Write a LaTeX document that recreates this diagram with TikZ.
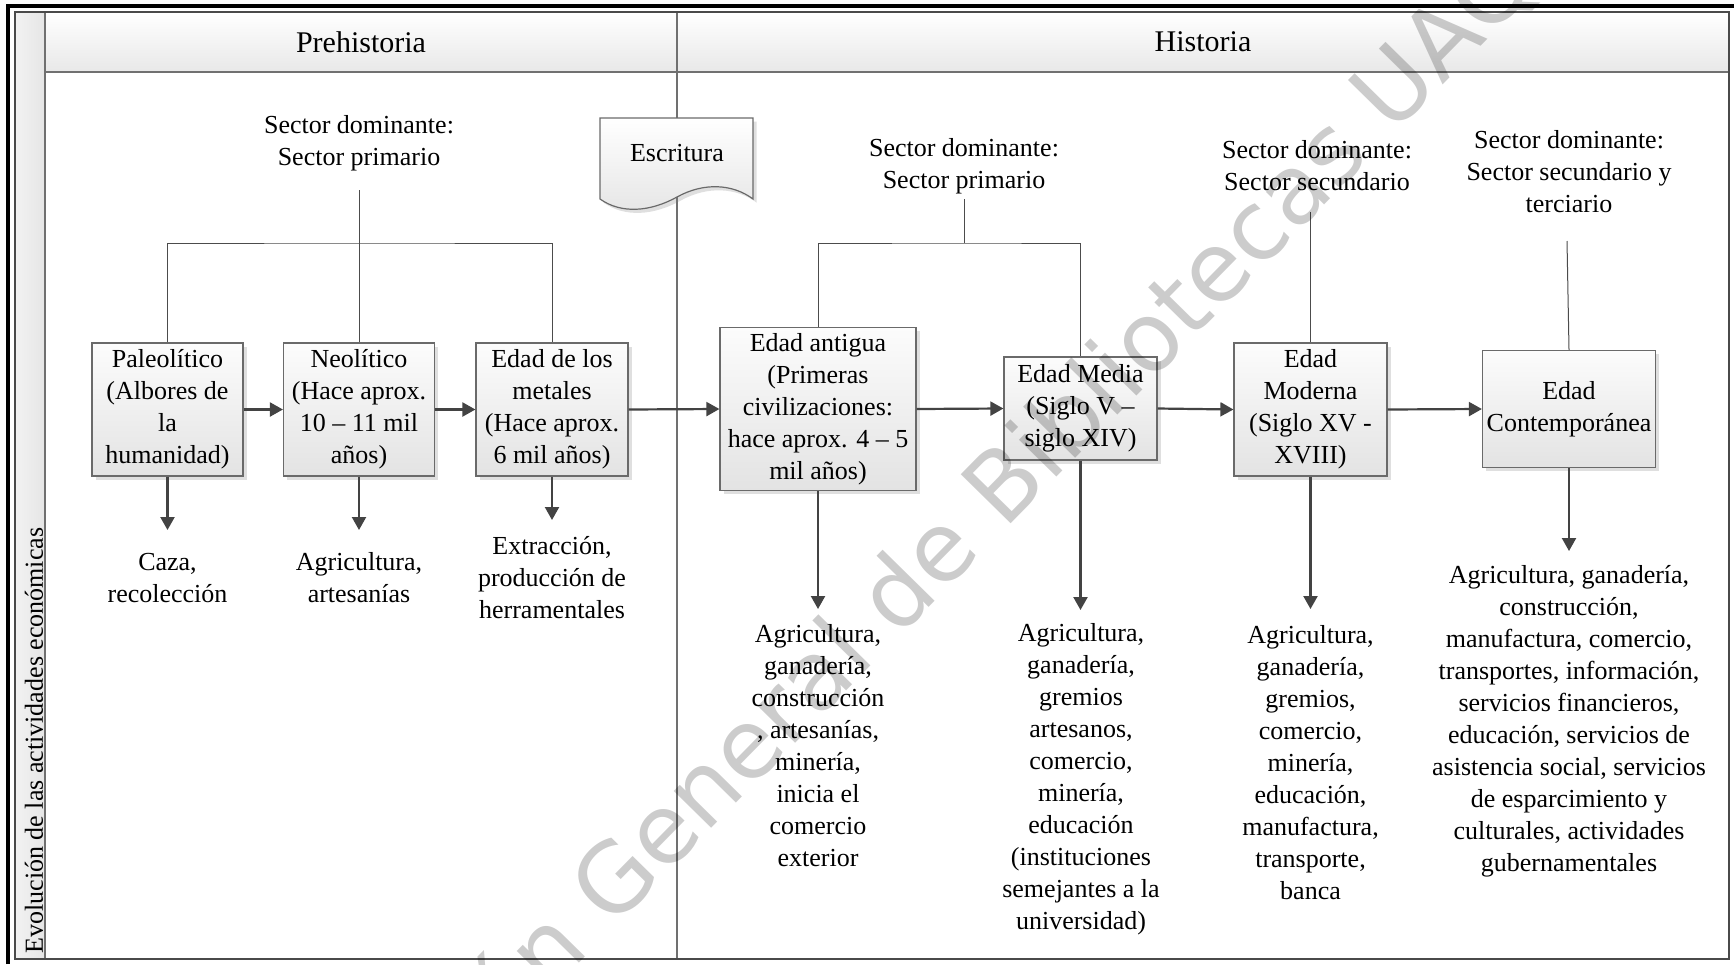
\documentclass[tikz,border=0pt]{standalone}
\usepackage{fontspec}
\setmainfont{Liberation Serif}
\newfontfamily\wmfont{DejaVu Sans}
\usetikzlibrary{arrows.meta,shadows}

\definecolor{framegray}{HTML}{4A4A4A}
\definecolor{linegray}{HTML}{707070}
\definecolor{arrowgray}{HTML}{434343}
\definecolor{boxline}{HTML}{6A6A6A}
\definecolor{boxtop}{HTML}{FCFCFC}
\definecolor{boxbot}{HTML}{E3E3E3}

\begin{document}
\begin{tikzpicture}[x=0.5pt,y=-0.5pt,
  every node/.style={font=\fontsize{13}{16}\selectfont, align=center, inner sep=0pt},
  stage/.style={draw=boxline, line width=0.6pt, top color=boxtop, bottom color=boxbot,
    drop shadow={shadow xshift=1.8pt, shadow yshift=-1.8pt, opacity=0.25, fill=gray}},
  flow/.style={draw=arrowgray, line width=1.1pt, -{Triangle[length=6.5pt,width=7pt]}},
  feed/.style={draw=black!70, line width=0.5pt},
  lane/.style={draw=linegray, line width=0.6pt},
]
\useasboundingbox (0,0) rectangle (1734,964);
\fill[white] (0,0) rectangle (1734,964);

% header band and side label column
\shade[top color=white, bottom color=black!9] (45,12) rectangle (1729,72);
\shade[left color=black!5, right color=black!10] (15,12) rectangle (45,959);

% pool frame and lane separators
\draw[lane] (45,72) -- (1729,72);
\draw[lane] (45,12) -- (45,959);
\draw[lane] (677,12) -- (677,959);
\draw[framegray, line width=0.6pt] (15,12) rectangle (1729,959);
\draw[black, line width=1.6pt] (8,964) -- (8,6) -- (1734,6);

% header titles
\node[font=\fontsize{15}{18}\selectfont] (prehist) at (361,42) {Prehistoria};
\node[font=\fontsize{15}{18}\selectfont] (hist) at (1203,42) {Historia};
\node[rotate=90, anchor=west] (lanelabel) at (34,954) {Evolución de las actividades económicas};

% document shape: Escritura
\path[draw=boxline, line width=0.6pt, top color=white, bottom color=black!10,
  drop shadow={shadow xshift=1.8pt, shadow yshift=-1.8pt, opacity=0.25, fill=gray}]
  (600,118) -- (753,118) -- (753,199)
  .. controls (733,184) and (704,182) .. (677,197)
  .. controls (650,212) and (621,214) .. (600,199) -- cycle;
\node (escr) at (677,153) {Escritura};

% dominant sector notes
\node (sp1) at (359,143) {Sector dominante:\\Sector primario};
\node (sp2) at (964,166) {Sector dominante:\\Sector primario};
\node (ss)  at (1317,166) {Sector dominante:\\Sector secundario};
\node (st)  at (1569,172) {Sector dominante:\\Sector secundario y\\terciario};

\coordinate (pTop)  at (359,190);
\coordinate (pJoin) at (359,243);
\coordinate (hTop)  at (964,199);
\coordinate (hJoin) at (964,243);
\coordinate (sTop)  at (1310.5,212);
\coordinate (cTop)  at (1567,241);

% stages
\node[stage, minimum width=75.5pt, minimum height=66.5pt] (paleo) at (167.5,409.5)
  {Paleolítico\\(Albores de\\la\\humanidad)};
\node[stage, minimum width=75.5pt, minimum height=66.5pt] (neo) at (359,409.5)
  {Neolítico\\(Hace aprox.\\10 – 11 mil\\años)};
\node[stage, minimum width=76pt, minimum height=66.5pt] (metal) at (552,409.5)
  {Edad de los\\metales\\(Hace aprox.\\6 mil años)};
\node[stage, minimum width=98pt, minimum height=81.5pt] (anti) at (818,409)
  {Edad antigua\\(Primeras\\civilizaciones:\\hace aprox. 4 – 5\\mil años)};
\node[stage, minimum width=76.5pt, minimum height=51.5pt] (media) at (1080.5,408.5)
  {Edad Media\\(Siglo V –\\siglo XIV)};
\node[stage, minimum width=76.5pt, minimum height=66.5pt] (moder) at (1310.5,409.5)
  {Edad\\Moderna\\(Siglo XV -\\XVIII)};
\node[stage, minimum width=86.5pt, minimum height=58.5pt] (contemp) at (1569,409)
  {Edad\\Contemporánea};

% feeders from the sector notes
\draw[feed] (paleo.north) |- (pJoin) -| (metal.north);
\draw[feed] (pTop) -- (neo.north);
\draw[feed] (anti.north) |- (hJoin) -| (media.north);
\draw[feed] (hTop) -- (hJoin);
\draw[feed] (sTop) -- (moder.north);
\draw[feed] (cTop) -- (contemp.north);

% timeline
\draw[flow] (paleo.east) -- (neo.west);
\draw[flow] (neo.east) -- (metal.west);
\draw[flow] (metal.east) -- (anti.west);
\draw[flow] (anti.east) -- (media.west);
\draw[flow] (media.east) -- (moder.west);
\draw[flow] (moder.east) -- (contemp.west);

% activities of each stage
\coordinate (d1) at (167.5,530);
\coordinate (d2) at (359,530);
\coordinate (d3) at (552,520);
\coordinate (d4) at (818,609);
\coordinate (d5) at (1080.5,610);
\coordinate (d6) at (1310.5,609);
\coordinate (d7) at (1569,551);
\draw[flow] (paleo.south) -- (d1);
\draw[flow] (neo.south) -- (d2);
\draw[flow] (metal.south) -- (d3);
\draw[flow] (anti.south) -- (d4);
\draw[flow] (media.south) -- (d5);
\draw[flow] (moder.south) -- (d6);
\draw[flow] (contemp.south) -- (d7);

\node (a1) at (167.5,578) {Caza,\\recolección};
\node (a2) at (359,578) {Agricultura,\\artesanías};
\node (a3) at (552,578) {Extracción,\\producción de\\herramentales};
\node (a4) at (818,746) {Agricultura,\\ganadería,\\construcción\\, artesanías,\\minería,\\inicia el\\comercio\\exterior};
\node (a5) at (1081,779) {Agricultura,\\ganadería,\\gremios\\artesanos,\\comercio,\\minería,\\educación\\(instituciones\\semejantes a la\\universidad)};
\node (a6) at (1310.5,763) {Agricultura,\\ganadería,\\gremios,\\comercio,\\minería,\\educación,\\manufactura,\\transporte,\\banca};
\node (a7) at (1569,721) {Agricultura, ganadería,\\construcción,\\manufactura, comercio,\\transportes, información,\\servicios financieros,\\educación, servicios de\\asistencia social, servicios\\de esparcimiento y\\culturales, actividades\\gubernamentales};

% library stamp
\begin{scope}
\clip (0,0) rectangle (1734,964);
\node[font=\wmfont\fontsize{48}{50}\selectfont, text=black, text opacity=0.2,
  rotate=45.5, anchor=base west] (stamp) at (612,930)
  {\llap{Dirección }General de Bibliotecas UAQ};
\end{scope}
\end{tikzpicture}
\end{document}
